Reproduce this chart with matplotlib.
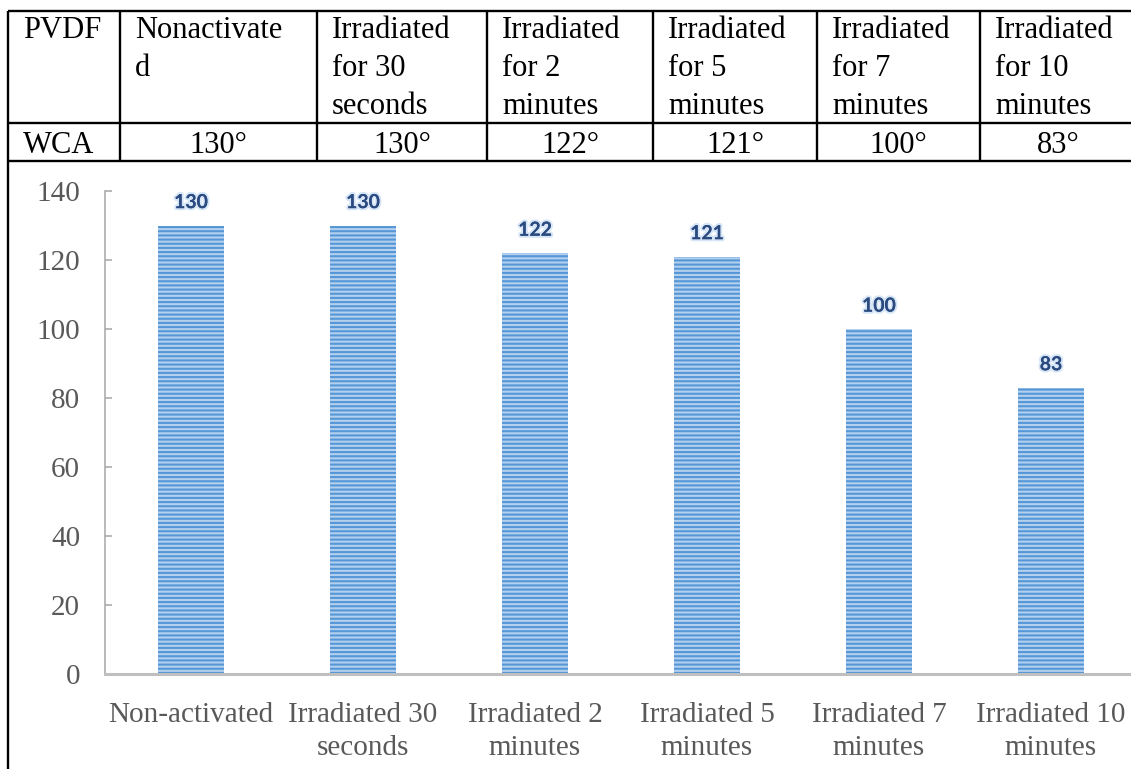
import matplotlib.pyplot as plt
import matplotlib.patheffects as pe

# WCA of PVDF membranes after different irradiation times
table_head = ["PVDF", "Nonactivate\nd", "Irradiated\nfor 30\nseconds", "Irradiated\nfor 2\nminutes",
              "Irradiated\nfor 5\nminutes", "Irradiated\nfor 7\nminutes", "Irradiated\nfor 10\nminutes"]
row_label = "WCA"
categories = ["Non-activated", "Irradiated 30\nseconds", "Irradiated 2\nminutes",
              "Irradiated 5\nminutes", "Irradiated 7\nminutes", "Irradiated 10\nminutes"]
wca = [130, 130, 122, 121, 100, 83]
yticks = [0, 20, 40, 60, 80, 100, 120, 140]

W, H = 1131, 769
dpi = 100
plt.rcParams['hatch.linewidth'] = 1.5
fig = plt.figure(figsize=(W / dpi, H / dpi), dpi=dpi)

serif = "Liberation Serif"
grey = "#595959"

# table drawn in pixel units on an overlay axes
tab = fig.add_axes([0, 0, 1, 1])
tab.set_xlim(0, W)
tab.set_ylim(H, 0)
tab.axis("off")

col_x = [8, 120, 317, 487, 653, 817, 980, 1137]
top, mid, bot = 11, 122.5, 160.5
lw = 1.7
for y in (top, mid, bot):
    tab.plot([8, W + 5], [y, y], color="black", lw=lw, solid_capstyle="butt")
tab.plot([8, 8], [top, H + 5], color="black", lw=lw, solid_capstyle="butt")
for x in col_x[1:-1]:
    tab.plot([x, x], [top, bot], color="black", lw=lw, solid_capstyle="butt")

for i, head in enumerate(table_head):
    for j, line in enumerate(head.split("\n")):
        tab.text(col_x[i] + 15, 38 + 38 * j, line, family=serif, fontsize=22,
                 color="black", va="baseline", ha="left")

tab.text(col_x[0] + 15, 153, row_label, family=serif, fontsize=22, va="baseline", ha="left")
for i, v in enumerate(wca):
    cx = (col_x[i + 1] + col_x[i + 2]) / 2
    tab.text(cx, 153, f"{v}°", family=serif, fontsize=22, va="baseline", ha="center")

# bar chart
ax = fig.add_axes([105 / W, (H - 674) / H, 1032 / W, 483 / H])
xs = range(len(wca))
bars = ax.bar(xs, wca, width=0.384, color="#b3d0ef", edgecolor="#5597d6",
              linewidth=0, hatch="----")

for b, v in zip(bars, wca):
    ax.annotate(str(v), (b.get_x() + b.get_width() / 2, v), xytext=(0, 12.5),
                textcoords="offset points", ha="center", va="baseline",
                family="Lato", fontweight="bold", fontsize=14, color="#2a4a80",
                path_effects=[pe.withStroke(linewidth=3, foreground="#d6e6f7"), pe.Normal()])

ax.set_xlim(-0.5, 5.5)
ax.set_ylim(0, 140)
ax.set_yticks(yticks)
ax.set_xticks(list(xs))
ax.set_xticklabels(categories, family=serif, fontsize=21, color=grey, linespacing=1.35)
ax.set_yticklabels([str(t) for t in yticks], family=serif, fontsize=21, color=grey)
ax.tick_params(axis="y", direction="in", length=5, width=1.1, color="#a6a6a6", pad=18)
ax.tick_params(axis="x", length=0, pad=20)

for s in ["top", "right"]:
    ax.spines[s].set_visible(False)
ax.spines["left"].set_color("#a6a6a6")
ax.spines["left"].set_linewidth(1.1)
ax.spines["bottom"].set_color("#bfbfbf")
ax.spines["bottom"].set_linewidth(2.2)
ax.patch.set_alpha(0)

fig.savefig("out.png", dpi=dpi)
